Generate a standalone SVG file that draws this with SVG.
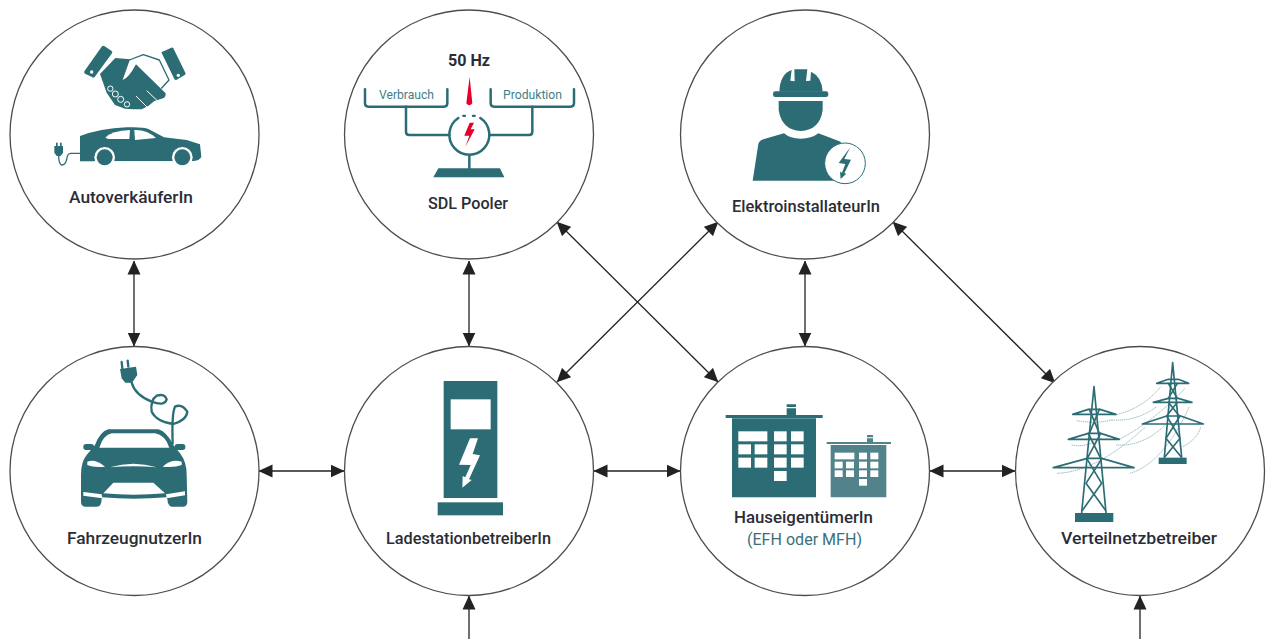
<svg xmlns="http://www.w3.org/2000/svg" width="1272" height="639" viewBox="0 0 1272 639">
<defs>
<marker id="ah" viewBox="0 0 14 14" refX="13.5" refY="7" markerWidth="14" markerHeight="14" markerUnits="userSpaceOnUse" orient="auto-start-reverse"><path d="M0,0.5 L14,7 L0,13.500 Z" fill="#222"/></marker>
</defs>
<style>
.ring{fill:#fff;stroke:#4d4d4d;stroke-width:1.3}
.t{fill:#2c6d75}
.w{fill:#fff}
.ts{fill:none;stroke:#2c6d75;stroke-linecap:round;stroke-linejoin:round}
.lab{font-family:Roboto,"Liberation Sans",sans-serif;font-size:16px;font-weight:500;fill:#2b2d36;text-anchor:middle}
.sm{font-family:Roboto,"Liberation Sans",sans-serif;font-size:13px;fill:#3f7f88;text-anchor:middle}
.wire{fill:none;stroke:#8fb4b7;stroke-width:3;stroke-dasharray:4 2}
.conn{stroke:#222;stroke-width:1.3;fill:none;marker-start:url(#ah);marker-end:url(#ah)}
</style>
<rect width="1272" height="639" fill="#fff"/>

<g id="connectors">
<path class="conn" d="M134,261V346"/>
<path class="conn" d="M469,261V346"/>
<path class="conn" d="M805,261V346"/>
<path class="conn" d="M259,471H344"/>
<path class="conn" d="M594,471H680"/>
<path class="conn" d="M930,471H1015"/>
<path class="conn" d="M557,222L718,382"/>
<path class="conn" d="M718,222L557,382"/>
<path class="conn" d="M893,222L1055,383"/>
<path d="M469,639V596" stroke="#222" stroke-width="1.3" fill="none" marker-end="url(#ah)"/>
<path d="M1140,639V596" stroke="#222" stroke-width="1.3" fill="none" marker-end="url(#ah)"/>
</g>

<g id="node-autoverkaeufer">
<circle class="ring" cx="134.5" cy="134.5" r="124.5"/>
<g transform="scale(.33333)">
<path class="t" d="M253,214L305,140Q309,135 314,139L334,152Q339,156 336,160L284,231Q280,234 276,231L255,221Q251,218 253,214Z"/>
<circle class="w" cx="275" cy="216" r="5"/>
<path class="t" d="M484,157L514,143Q518,141 520,145L556,218Q558,223 554,225L530,239Q526,241 523,237Z"/>
<circle class="w" cx="535" cy="226" r="5"/>
<path class="ts" stroke-width="4" d="M388,180L430,164L478,180L507,240L485,264"/>
<path class="t" d="M300,222L346,174L390,178L368,240Q385,236 408,193L497,280Q498,296 480,298L462,304L445,318L425,328L400,328L375,326L345,315L320,278Z"/>
<g fill="none" stroke="#fff" stroke-width="3"><circle cx="331" cy="266" r="8"/><circle cx="346" cy="282" r="9"/><circle cx="362" cy="298" r="9"/><circle cx="381" cy="313" r="8"/></g>
<path fill="none" stroke="#fff" stroke-width="3" d="M408,288L442,322M440,272L476,306"/>
<path class="t" d="M240,408Q300,386 380,382Q430,380 445,387L492,412L560,420L600,433L604,470Q600,482 575,484L240,484Z"/>
<circle class="w" cx="314" cy="472" r="31"/><circle class="w" cx="547" cy="472" r="31"/>
<rect class="w" x="280" y="484" width="300" height="20"/>
<circle class="t" cx="314" cy="472" r="24"/><circle class="t" cx="547" cy="472" r="24"/>
<path class="w" d="M316,413Q335,392 390,390L388,417L325,417Z"/>
<path class="w" d="M403,390Q440,388 468,414L405,420Z"/>
<path class="ts" stroke-width="4" d="M240,460H212Q202,460 200,478Q196,496 184,495Q176,490 176,466"/>
<path class="t" d="M163,438H189V458L182,468H170L163,458Z"/>
<rect class="t" x="168" y="428" width="5" height="12"/><rect class="t" x="180" y="428" width="5" height="12"/>
</g>
<text class="lab" x="131" y="203" textLength="124" lengthAdjust="spacingAndGlyphs">AutoverkäuferIn</text>
</g>

<g id="node-sdl-pooler">
<circle class="ring" cx="469" cy="134.5" r="124.5"/>
<g transform="translate(340,0) scale(.33333)">
<g class="ts" stroke-width="7.5">
<path d="M75,268V310Q75,320 85,320H312Q322,320 322,310V268"/>
<path d="M452,268V310Q452,320 462,320H692Q702,320 702,310V268"/>
<path d="M198,320V395Q198,405 208,405H328"/>
<path d="M577,320V395Q577,405 567,405H448"/>
<path d="M355,354A60,60 0 1 0 421,354"/>
<path d="M388,465V505"/>
</g>
<rect class="t" x="367" y="344" width="11" height="7" rx="2"/><rect class="t" x="396" y="344" width="11" height="7" rx="2"/>
<path class="t" d="M295,505H480L493,532H280Z"/>
<path d="M389,230L397,310Q388,322 379,310Z" fill="#e4002b"/>
<path d="M402,368H389L373,407H388L376,440L404,388H392Z" fill="#e4002b"/>
</g>
<text class="lab" x="469" y="66" textLength="42" lengthAdjust="spacingAndGlyphs" style="font-weight:700">50 Hz</text>
<text class="sm" x="406.500" y="99" textLength="55" lengthAdjust="spacingAndGlyphs">Verbrauch</text>
<text class="sm" x="532.500" y="99" textLength="59" lengthAdjust="spacingAndGlyphs">Produktion</text>
<text class="lab" x="468" y="209" textLength="80" lengthAdjust="spacingAndGlyphs">SDL Pooler</text>
</g>

<g id="node-elektroinstallateur">
<circle class="ring" cx="805" cy="134.5" r="124.5"/>
<g transform="translate(680,30) scale(.33333)">
<path class="t" d="M298,185Q300,132 335,120L331,152L344,154L343,118H382L378,153L391,152L393,125Q426,140 428,185Z"/>
<rect class="t" x="279" y="184" width="166" height="17" rx="7"/>
<path class="t" d="M296,213H428V240Q420,300 362,303Q305,300 296,240Z"/>
<path class="t" d="M218,452L235,342Q238,332 250,328L312,310Q330,326 362,326Q395,326 415,310L482,335L490,452Z"/>
<circle cx="495" cy="400" r="61" fill="#fff" stroke="#2c6d75" stroke-width="3"/>
<path class="t" d="M511,352L476,399L496,402L486,428L480,425L482,447L499,431L493,430L513,389L493,387Z"/>
</g>
<text class="lab" x="806" y="212" textLength="148" lengthAdjust="spacingAndGlyphs">ElektroinstallateurIn</text>
</g>

<g id="node-fahrzeugnutzer">
<circle class="ring" cx="134.500" cy="471" r="124.500"/>
<g transform="translate(40,350) scale(.33333)">
<path class="ts" stroke-width="7" d="M275,98Q285,135 335,155Q375,170 380,148Q375,130 350,137Q330,150 335,185Q350,215 400,222Q440,210 442,185Q425,160 405,170Q395,190 398,280"/>
<path class="t" d="M240,57L288,50L292,75L276,98L256,98L245,85Z"/>
<path class="ts" stroke-width="7" d="M245,36L247,55M263,32L265,50"/>
<rect class="t" x="130" y="282" width="32" height="18" rx="8"/><rect class="t" x="404" y="282" width="32" height="18" rx="8"/>
<path class="t" d="M205,238H355Q380,245 400,285L420,310Q440,335 440,375L442,455Q442,468 430,470H395Q383,468 382,447H185Q185,470 170,470H135Q123,468 123,455V375Q123,335 140,315L165,285Q180,245 205,238Z"/>
<path class="w" d="M178,293Q190,255 215,250H345Q375,255 388,293Z"/>
<path class="w" d="M142,335Q165,325 195,350Q160,353 142,345Z"/>
<path class="w" d="M425,335Q395,325 368,350Q405,353 425,345Z"/>
<path class="w" d="M210,352Q280,330 350,352Q280,345 210,352Z"/>
<path class="w" d="M190,430L220,398H340L375,430Q280,438 190,430Z"/>
<path class="w" d="M130,426L185,433L187,445L130,437Z"/>
<path class="w" d="M435,424L378,433L380,445L435,436Z"/>
<path class="w" d="M187,442Q280,450 380,442L382,449H185Z"/>
</g>
<text class="lab" x="134.500" y="544" textLength="135" lengthAdjust="spacingAndGlyphs">FahrzeugnutzerIn</text>
</g>

<g id="node-ladestation">
<circle class="ring" cx="469" cy="471" r="124.500"/>
<g transform="translate(420,370) scale(.33333)">
<rect class="t" x="71" y="33" width="161" height="351"/>
<rect class="w" x="92" y="88" width="120" height="90"/>
<polygon class="w" points="150,205 174,205 158,252 180,256 147,328 155,330 127,353 128,318 136,322 152,285 117,284"/>
<rect class="t" x="53" y="397" width="196" height="39"/>
</g>
<text class="lab" x="468.500" y="544" textLength="165" lengthAdjust="spacingAndGlyphs">LadestationbetreiberIn</text>
</g>

<g id="node-hauseigentuemer">
<circle class="ring" cx="805" cy="471" r="124.500"/>
<g transform="translate(700,390) scale(.33333)">
<path class="t" d="M96,85H348V322H96ZM77,75H368V84H77ZM260,55H288V78H260ZM260,43H288V51H260Z"/>
<g class="w">
<rect x="115" y="124" width="87" height="30"/><rect x="222" y="124" width="38" height="30"/><rect x="273" y="124" width="38" height="30"/>
<rect x="115" y="163" width="38" height="30"/><rect x="164" y="163" width="38" height="30"/><rect x="222" y="163" width="38" height="30"/><rect x="273" y="163" width="38" height="30"/>
<rect x="115" y="203" width="38" height="30"/><rect x="164" y="203" width="38" height="30"/><rect x="222" y="203" width="38" height="30"/><rect x="273" y="203" width="38" height="30"/>
<rect x="222" y="243" width="38" height="30"/>
</g>
<path fill="#52838a" d="M392,165H559V322H392ZM380,156H573V162H380ZM501,145H519V158H501ZM501,135H519V142H501Z"/>
<g class="w">
<rect x="404" y="188" width="59" height="20"/><rect x="477" y="188" width="24" height="20"/><rect x="511" y="188" width="24" height="20"/>
<rect x="404" y="215" width="24" height="20"/><rect x="438" y="215" width="24" height="20"/><rect x="477" y="215" width="24" height="20"/><rect x="511" y="215" width="24" height="20"/>
<rect x="404" y="241" width="24" height="20"/><rect x="438" y="241" width="24" height="20"/><rect x="477" y="241" width="24" height="20"/><rect x="511" y="241" width="24" height="20"/>
<rect x="477" y="267" width="24" height="20"/>
</g>
</g>
<text class="lab" x="803.500" y="523" textLength="139" lengthAdjust="spacingAndGlyphs">HauseigentümerIn</text>
<text class="lab" x="804.500" y="545" textLength="115" lengthAdjust="spacingAndGlyphs" style="font-weight:400;fill:#3d6f78">(EFH oder MFH)</text>
</g>

<g id="node-verteilnetz">
<circle class="ring" cx="1140" cy="471" r="124.500"/>
<g transform="translate(1030,350) scale(.33333)">
<g class="wire">
<path d="M255,195Q340,175 392,110"/>
<path d="M245,210Q320,215 380,170"/>
<path d="M140,212Q200,222 245,210"/>
<path d="M268,268Q370,215 465,115"/>
<path d="M125,285Q170,295 215,262"/>
<path d="M258,285Q340,290 405,225"/>
<path d="M300,370Q400,340 478,170"/>
<path d="M82,370Q200,365 345,232"/>
<path d="M458,290Q500,270 512,232"/>
</g>
<g class="ts" stroke-width="5">
<path d="M192,110L155,488M192,110L228,488"/>
<path d="M128,193L175,178H210L258,193H128"/>
<path d="M115,268L175,250H212L268,268H115"/>
<path d="M70,353L172,325H215L312,353H70"/>
<path d="M178,178L208,250M208,178L178,250"/>
<path d="M175,250L212,325M212,250L172,325"/>
<path d="M170,325L215,400L158,480M216,325L168,400L226,480"/>
<path d="M428,38L403,322M428,38L455,322"/>
<path d="M380,100L415,88H445L476,100H380"/>
<path d="M370,157L415,145H445L486,157H370"/>
<path d="M337,222L410,198H452L520,222H337"/>
<path d="M415,100L442,145M442,100L415,145"/>
<path d="M415,157L448,198M442,157L410,198"/>
<path d="M410,198L450,265L405,320M450,198L408,265L453,320"/>
</g>
<rect class="t" x="135" y="489" width="115" height="27"/>
<rect class="t" x="386" y="323" width="84" height="19"/>
</g>
<text class="lab" x="1139" y="544" textLength="156" lengthAdjust="spacingAndGlyphs">Verteilnetzbetreiber</text>
</g>
</svg>
